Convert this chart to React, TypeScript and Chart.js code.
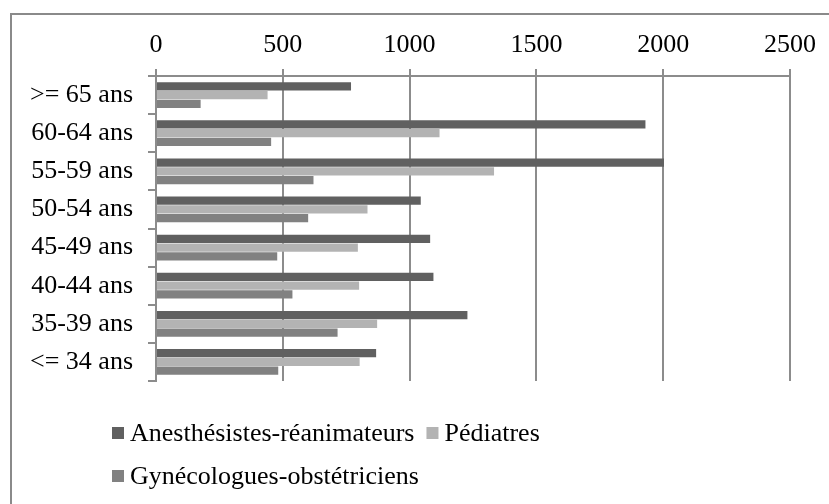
import React, { useEffect, useRef } from "react";
import { Chart, registerables } from "chart.js";

Chart.register(...registerables);

const categories = [">= 65 ans", "60-64 ans", "55-59 ans", "50-54 ans", "45-49 ans", "40-44 ans", "35-39 ans", "<= 34 ans"];
const seriesNames = ["Anesthésistes-réanimateurs", "Pédiatres", "Gynécologues-obstétriciens"];
const anesthesistes = [769, 1930, 2003, 1044, 1081, 1094, 1228, 868];
const pediatres = [440, 1118, 1333, 834, 796, 801, 872, 803];
const gynecologues = [176, 454, 621, 600, 478, 538, 716, 482];
const xTicks = [0, 500, 1000, 1500, 2000, 2500];
const colors = ["#606060", "#b3b3b3", "#818181"];

const FONT = "'Liberation Serif', 'Times New Roman', serif";
const FONT_SIZE = 26;

const frameAndLegend = {
  id: "frameAndLegend",
  beforeDraw(chart: any) {
    const ctx = chart.ctx;
    ctx.save();
    ctx.fillStyle = "#ffffff";
    ctx.fillRect(0, 0, chart.width, chart.height);
    ctx.strokeStyle = "#8a8a8a";
    ctx.lineWidth = 2;
    ctx.beginPath();
    ctx.moveTo(11, chart.height + 2);
    ctx.lineTo(11, 14);
    ctx.lineTo(chart.width + 2, 14);
    ctx.stroke();
    ctx.restore();
  },
  afterDraw(chart: any) {
    const ctx = chart.ctx;
    ctx.save();
    ctx.font = `${FONT_SIZE}px ${FONT}`;
    ctx.textBaseline = "middle";
    ctx.textAlign = "left";
    const startX = 112;
    const maxRight = 700;
    const rowYs = [433, 476];
    const box = 12;
    const gapText = 6;
    const gapItems = 12;
    let x = startX;
    let row = 0;
    chart.data.datasets.forEach((ds: any) => {
      const w = box + gapText + ctx.measureText(ds.label).width;
      if (x + w > maxRight && x > startX) {
        row += 1;
        x = startX;
      }
      const y = rowYs[row];
      ctx.fillStyle = ds.backgroundColor;
      ctx.fillRect(x, y - box / 2, box, box);
      ctx.fillStyle = "#000000";
      ctx.fillText(ds.label, x + box + gapText, y + 1);
      x += w + gapItems;
    });
    ctx.restore();
  },
};

export default function App() {
  const ref = useRef<HTMLCanvasElement>(null);
  useEffect(() => {
    if (!ref.current) return;
    const chart = new Chart(ref.current, {
      type: "bar",
      data: {
        labels: categories,
        datasets: [
          { label: seriesNames[0], data: anesthesistes, backgroundColor: colors[0] },
          { label: seriesNames[1], data: pediatres, backgroundColor: colors[1] },
          { label: seriesNames[2], data: gynecologues, backgroundColor: colors[2] },
        ],
      },
      options: {
        indexAxis: "y",
        responsive: false,
        animation: false,
        devicePixelRatio: 1,
        layout: { padding: { left: 0, top: 14, right: 39, bottom: 123 } },
        datasets: { bar: { categoryPercentage: 0.69, barPercentage: 0.95 } },
        plugins: { legend: { display: false }, tooltip: { enabled: false } },
        scales: {
          x: {
            position: "top",
            min: 0,
            max: 2500,
            afterBuildTicks: (s: any) => {
              s.ticks = xTicks.map((v) => ({ value: v }));
            },
            afterFit: (s: any) => {
              s.height = 62;
            },
            ticks: {
              color: "#000000",
              font: { family: FONT, size: FONT_SIZE },
              padding: 8,
              maxRotation: 0,
              callback: (v: any) => String(v),
            },
            grid: { color: "#8c8c8c", lineWidth: 2, tickLength: 7, drawTicks: true },
            border: { color: "#8c8c8c", width: 2 },
          },
          y: {
            afterFit: (s: any) => {
              s.width = 156;
            },
            ticks: {
              color: "#000000",
              font: { family: FONT, size: FONT_SIZE },
              padding: 15,
            },
            grid: { offset: true, drawOnChartArea: false, drawTicks: true, tickLength: 8, color: "#8c8c8c", lineWidth: 2 },
            border: { color: "#8c8c8c", width: 2 },
          },
        },
      },
      plugins: [frameAndLegend],
    });
    return () => chart.destroy();
  }, []);
  return (
    <div style={{ position: "absolute", left: 0, top: 0, width: 829, height: 504, overflow: "hidden", background: "#fff" }}>
      <canvas ref={ref} width={829} height={504} style={{ display: "block" }} />
    </div>
  );
}
